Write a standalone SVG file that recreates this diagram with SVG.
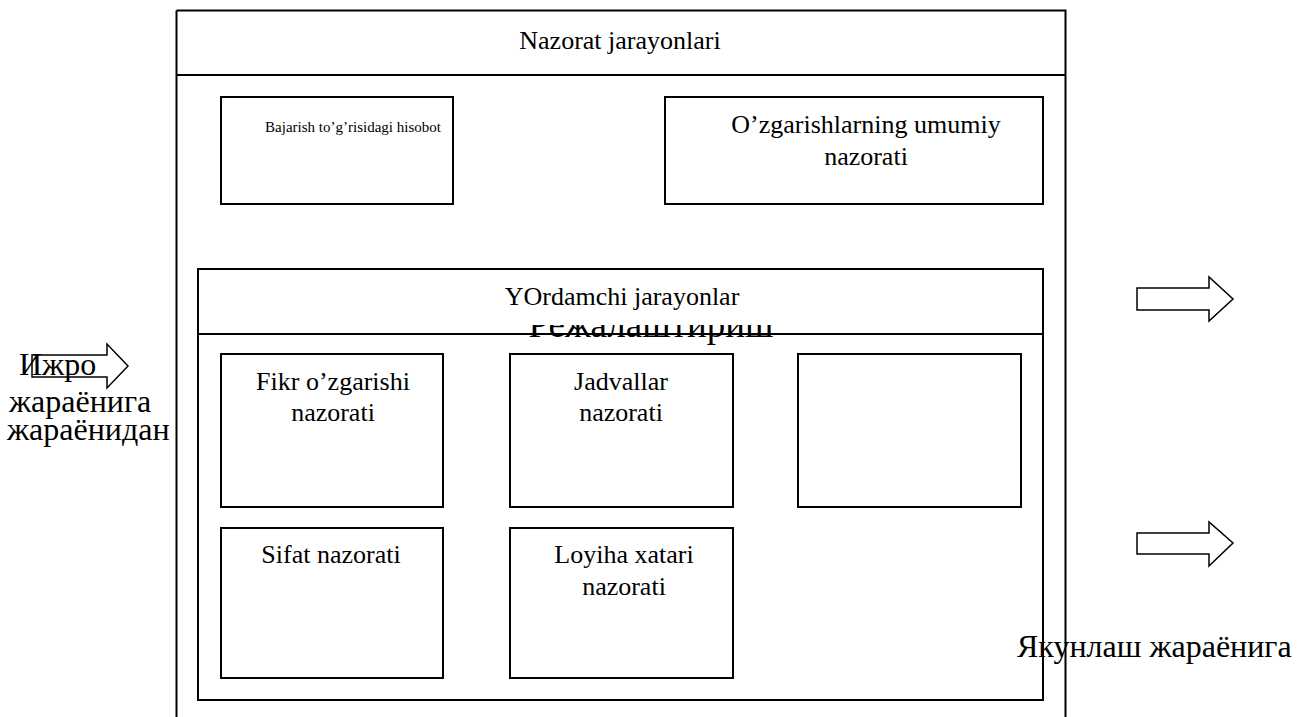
<svg xmlns="http://www.w3.org/2000/svg" width="1298" height="717" viewBox="0 0 1298 717">
<style>
.box{fill:#fff;stroke:#000;stroke-width:2}
.arr{fill:#fff;stroke:#000;stroke-width:1.5;stroke-linejoin:miter}
.t{font-family:"Liberation Serif","Times New Roman",serif;font-size:26px;fill:#000;text-anchor:middle}
.c{font-family:"Liberation Serif","Times New Roman",serif;font-size:32px;fill:#000}
</style>
<defs>
<clipPath id="rclip"><rect x="400" y="325" width="500" height="30"/></clipPath>
</defs>
<rect width="1298" height="717" fill="#fff"/>
<g id="nazorat">
<path class="box" d="M176.5,10.5 H1065.5 V718 M176.5,10.5 V718"/>
<line x1="176.5" y1="75" x2="1065.5" y2="75" stroke="#000" stroke-width="2"/>
<text class="t" x="620" y="49">Nazorat jarayonlari</text>
</g>
<g id="bajarish">
<rect class="box" x="221" y="97" width="232" height="107"/>
<text class="t" x="353" y="132" style="font-size:15px">Bajarish to’g’risidagi hisobot</text>
</g>
<g id="ozgarish">
<rect class="box" x="665" y="97" width="378" height="107"/>
<text class="t" x="866" y="133">O’zgarishlarning umumiy</text>
<text class="t" x="866" y="165">nazorati</text>
</g>
<g id="yordamchi">
<rect class="box" x="198" y="269" width="845" height="431"/>
<rect class="box" x="198" y="269" width="845" height="65"/>
<text class="t" x="622" y="305">YOrdamchi jarayonlar</text>
<text class="c" x="651" y="337" text-anchor="middle" clip-path="url(#rclip)" style="font-size:37px">Режалаштириш</text>
</g>
<g id="fikr">
<rect class="box" x="221" y="354" width="222" height="153"/>
<text class="t" x="333" y="390">Fikr o’zgarishi</text>
<text class="t" x="333" y="421">nazorati</text>
</g>
<g id="jadvallar">
<rect class="box" x="510" y="354" width="223" height="153"/>
<text class="t" x="621" y="390">Jadvallar</text>
<text class="t" x="621" y="421">nazorati</text>
</g>
<g id="empty">
<rect class="box" x="798" y="354" width="223" height="153"/>
</g>
<g id="sifat">
<rect class="box" x="221" y="528" width="222" height="150"/>
<text class="t" x="331" y="563">Sifat nazorati</text>
</g>
<g id="loyiha">
<rect class="box" x="510" y="528" width="223" height="150"/>
<text class="t" x="624" y="563">Loyiha xatari</text>
<text class="t" x="624" y="595">nazorati</text>
</g>
<g id="connectors">
<text class="c" x="19" y="375">Ижро</text>
<path class="arr" d="M32,355 H107 V344 L128,366 L107,388 V377 H32 Z" style="fill:none"/>
<path class="arr" d="M1137,288 H1209 V277 L1233,299 L1209,321 V310 H1137 Z"/>
<path class="arr" d="M1137,533 H1209 V522 L1233,543 L1209,566 V554 H1137 Z"/>
</g>
<text class="c" x="9" y="412">жараёнига</text>
<text class="c" x="7" y="440">жараёнидан</text>
<text class="c" x="1017" y="657">Якунлаш жараёнига</text>
</svg>
